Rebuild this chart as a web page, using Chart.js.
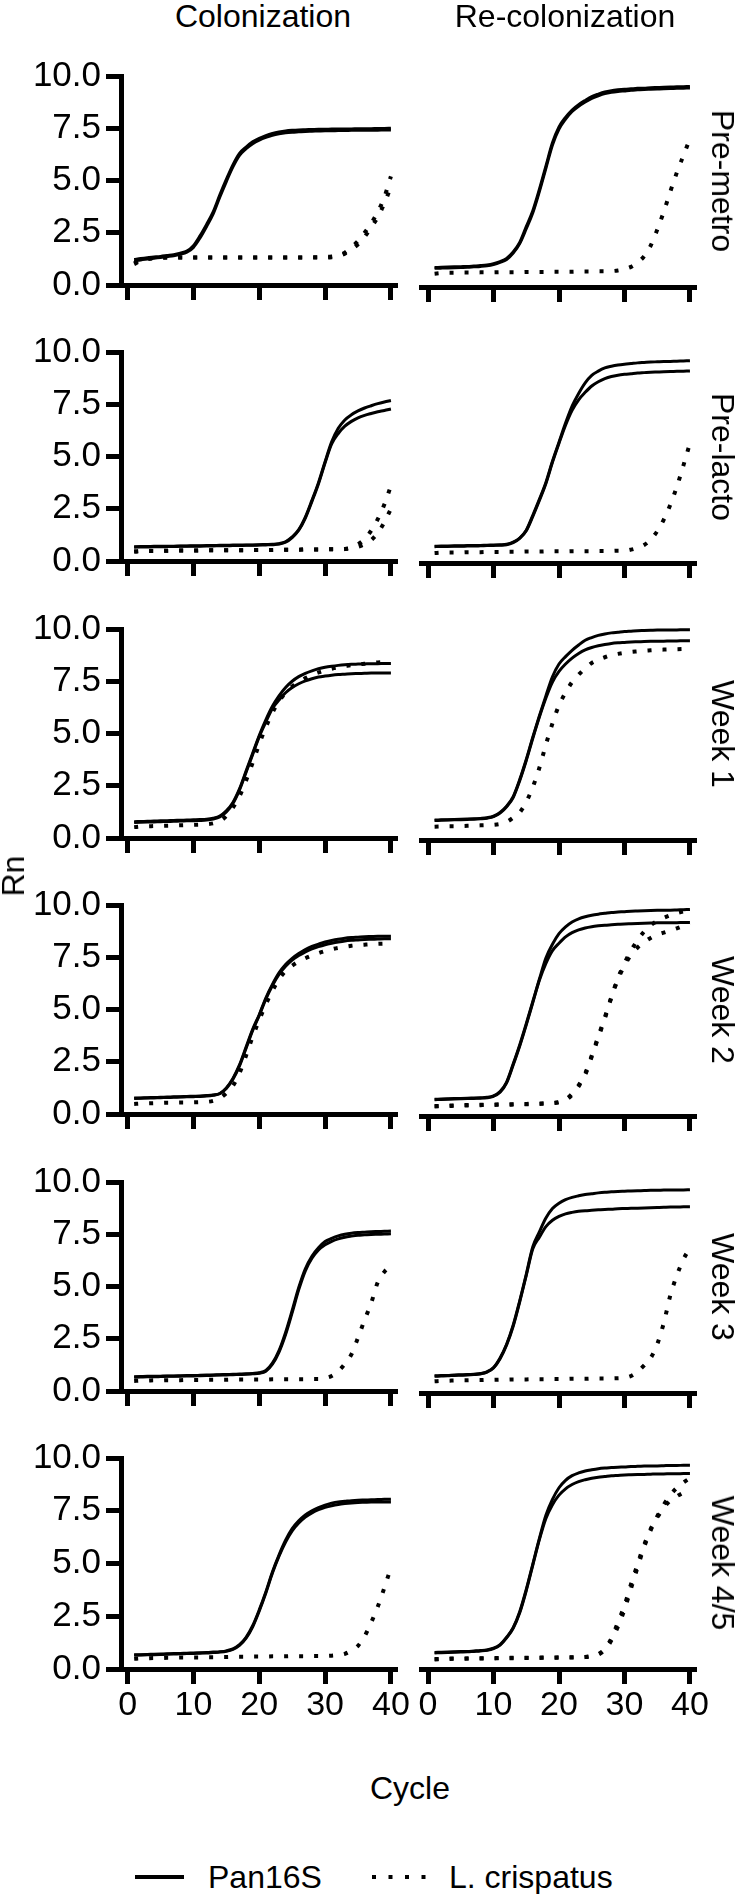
<!DOCTYPE html>
<html>
<head>
<meta charset="utf-8">
<script src="https://cdn.jsdelivr.net/npm/chart.js@4.4.1/dist/chart.umd.min.js"></script>
<style>
  body { margin: 0; background: #fff; }
  #fig { position: relative; width: 750px; height: 1894px; overflow: hidden;
         font-family: "Liberation Sans", Arial, sans-serif; color: #000; }
  #fig canvas { position: absolute; }
  .txt { position: absolute; font-size: 32px; line-height: 1; white-space: nowrap;
         transform: translate(-50%, -50%); }
  .rot { transform: translate(-50%, -50%) rotate(90deg); }
  .rotl { transform: translate(-50%, -50%) rotate(-90deg); }
</style>
</head>
<body>
<div id="fig"></div>
<script>
// cycle numbers, shared by every curve
const cycles = [1,2,3,4,5,6,7,8,9,10,11,12,13,14,15,16,17,18,19,20,21,22,23,24,25,26,27,28,29,30,31,32,33,34,35,36,37,38,39,40];
const xTicks = [0, 10, 20, 30, 40];
const yTicks = [0, 2.5, 5, 7.5, 10];

const rowLabels = ["Pre-metro", "Pre-lacto", "Week 1", "Week 2", "Week 3", "Week 4/5"];
const colTitles = ["Colonization", "Re-colonization"];
const seriesNames = ["Pan16S", "L. crispatus"];

// Pre-metro
const pmColPanA = [1.22,1.27,1.31,1.34,1.37,1.41,1.45,1.52,1.62,1.88,2.35,2.9,3.5,4.3,5.05,5.75,6.3,6.6,6.85,7.02,7.15,7.25,7.32,7.37,7.4,7.42,7.43,7.44,7.45,7.45,7.46,7.46,7.47,7.47,7.48,7.48,7.48,7.49,7.49,7.5];
const pmColPanB = [1.15,1.2,1.24,1.28,1.32,1.36,1.4,1.47,1.57,1.8,2.25,2.8,3.4,4.2,4.95,5.65,6.2,6.52,6.76,6.93,7.06,7.16,7.23,7.28,7.31,7.33,7.35,7.36,7.37,7.38,7.38,7.39,7.39,7.4,7.4,7.41,7.41,7.41,7.42,7.42];
const pmColLcrA = [1.05,1.2,1.27,1.3,1.31,1.32,1.32,1.32,1.32,1.32,1.32,1.32,1.32,1.32,1.32,1.32,1.32,1.32,1.32,1.32,1.32,1.32,1.32,1.32,1.32,1.32,1.32,1.33,1.33,1.34,1.36,1.42,1.55,1.8,2.1,2.5,2.95,3.5,4.2,5.2];
const pmColLcrB = [1.0,1.15,1.24,1.28,1.3,1.31,1.31,1.31,1.31,1.31,1.31,1.31,1.31,1.31,1.31,1.31,1.31,1.31,1.31,1.31,1.31,1.31,1.31,1.31,1.31,1.31,1.31,1.31,1.31,1.31,1.33,1.38,1.5,1.7,1.95,2.3,2.75,3.25,3.9,4.7];
const pmRecPanA = [0.92,0.93,0.94,0.95,0.96,0.97,0.99,1.01,1.04,1.1,1.2,1.35,1.65,2.1,2.85,3.6,4.6,5.7,6.8,7.55,8.0,8.35,8.6,8.8,8.98,9.1,9.2,9.26,9.3,9.33,9.35,9.37,9.38,9.4,9.41,9.42,9.43,9.44,9.45,9.46];
const pmRecPanB = [0.88,0.89,0.9,0.91,0.92,0.93,0.95,0.97,1.0,1.06,1.16,1.3,1.6,2.05,2.75,3.5,4.5,5.6,6.7,7.45,7.92,8.28,8.53,8.73,8.9,9.02,9.12,9.18,9.22,9.25,9.28,9.3,9.32,9.33,9.34,9.35,9.36,9.37,9.38,9.39];
const pmRecLcr = [0.63,0.66,0.67,0.67,0.68,0.68,0.68,0.69,0.69,0.69,0.7,0.7,0.7,0.7,0.71,0.71,0.71,0.71,0.72,0.72,0.72,0.72,0.73,0.73,0.73,0.74,0.74,0.75,0.78,0.85,0.95,1.15,1.45,1.95,2.7,3.55,4.5,5.4,6.2,7.0];

// Pre-lacto
const plColPanA = [0.68,0.69,0.69,0.7,0.7,0.71,0.71,0.72,0.72,0.73,0.73,0.74,0.74,0.75,0.75,0.76,0.76,0.77,0.77,0.78,0.79,0.8,0.83,0.92,1.15,1.5,2.1,2.9,3.75,4.75,5.7,6.35,6.75,7.0,7.18,7.32,7.43,7.53,7.61,7.68];
const plColPanB = [0.66,0.67,0.67,0.68,0.68,0.69,0.69,0.7,0.7,0.71,0.71,0.72,0.72,0.73,0.73,0.74,0.74,0.75,0.75,0.76,0.77,0.78,0.81,0.9,1.12,1.47,2.05,2.85,3.7,4.7,5.6,6.1,6.45,6.68,6.85,6.97,7.06,7.14,7.2,7.27];
const plColLcrA = [0.45,0.47,0.48,0.48,0.49,0.49,0.5,0.5,0.5,0.5,0.51,0.51,0.51,0.51,0.52,0.52,0.52,0.52,0.53,0.53,0.53,0.53,0.54,0.54,0.54,0.54,0.55,0.55,0.55,0.55,0.56,0.56,0.58,0.65,0.8,1.05,1.45,2.0,2.7,3.6];
const plColLcrB = [0.45,0.47,0.48,0.48,0.49,0.49,0.5,0.5,0.5,0.5,0.51,0.51,0.51,0.51,0.52,0.52,0.52,0.52,0.53,0.53,0.53,0.53,0.54,0.54,0.54,0.54,0.55,0.55,0.55,0.55,0.56,0.56,0.57,0.6,0.68,0.8,1.0,1.35,1.85,2.5];
const plRecPanA = [0.79,0.8,0.8,0.81,0.81,0.82,0.82,0.83,0.84,0.85,0.86,0.88,0.98,1.18,1.55,2.25,3.0,3.8,4.8,5.7,6.6,7.4,8.0,8.5,8.85,9.05,9.2,9.28,9.34,9.38,9.41,9.44,9.46,9.48,9.49,9.5,9.51,9.52,9.53,9.54];
const plRecPanB = [0.77,0.78,0.78,0.79,0.79,0.8,0.8,0.81,0.82,0.83,0.84,0.86,0.96,1.16,1.52,2.2,2.95,3.75,4.75,5.65,6.5,7.2,7.7,8.05,8.35,8.55,8.7,8.8,8.86,8.9,8.93,8.96,8.98,9.0,9.01,9.02,9.03,9.04,9.05,9.06];
const plRecLcr = [0.47,0.49,0.5,0.5,0.5,0.51,0.51,0.51,0.52,0.52,0.52,0.53,0.53,0.53,0.54,0.54,0.54,0.55,0.55,0.55,0.55,0.56,0.56,0.56,0.56,0.57,0.57,0.57,0.58,0.58,0.63,0.72,0.85,1.1,1.5,2.05,2.75,3.6,4.6,5.65];

// Week 1
const w1ColPanA = [0.78,0.79,0.8,0.81,0.82,0.83,0.84,0.85,0.86,0.87,0.88,0.9,0.95,1.05,1.3,1.7,2.35,3.2,4.05,4.9,5.65,6.3,6.8,7.2,7.5,7.72,7.88,8.0,8.1,8.17,8.22,8.26,8.29,8.31,8.32,8.33,8.34,8.34,8.35,8.35];
const w1ColPanB = [0.74,0.75,0.76,0.77,0.78,0.79,0.8,0.81,0.82,0.83,0.84,0.86,0.91,1.01,1.25,1.65,2.3,3.15,4.0,4.85,5.55,6.2,6.6,6.95,7.2,7.38,7.52,7.62,7.7,7.75,7.79,7.82,7.84,7.86,7.87,7.88,7.89,7.89,7.9,7.9];
const w1ColLcr = [0.52,0.55,0.56,0.57,0.58,0.59,0.6,0.61,0.62,0.63,0.64,0.66,0.7,0.8,1.05,1.45,2.0,2.75,3.6,4.5,5.3,6.0,6.55,6.95,7.25,7.48,7.65,7.8,7.92,8.02,8.1,8.17,8.22,8.27,8.31,8.34,8.37,8.4,8.42,8.43];
const w1RecPanA = [0.94,0.95,0.96,0.97,0.98,0.99,1.0,1.02,1.05,1.12,1.3,1.6,2.05,2.85,3.8,4.85,5.85,6.8,7.7,8.3,8.65,8.95,9.2,9.42,9.55,9.65,9.72,9.77,9.8,9.83,9.85,9.87,9.88,9.89,9.9,9.9,9.91,9.91,9.92,9.92];
const w1RecPanB = [0.92,0.93,0.94,0.95,0.96,0.97,0.98,1.0,1.03,1.1,1.27,1.57,2.0,2.8,3.75,4.8,5.8,6.7,7.45,7.95,8.3,8.58,8.8,8.97,9.08,9.16,9.22,9.27,9.3,9.32,9.34,9.35,9.36,9.37,9.38,9.38,9.39,9.39,9.4,9.4];
const w1RecLcr = [0.63,0.64,0.65,0.65,0.66,0.67,0.68,0.69,0.7,0.72,0.76,0.85,1.05,1.3,1.8,2.5,3.4,4.5,5.5,6.35,6.95,7.45,7.8,8.1,8.35,8.5,8.62,8.72,8.78,8.83,8.87,8.9,8.93,8.95,8.97,8.98,8.99,9.0,9.01,9.02];

// Week 2
const w2ColPanA = [0.76,0.77,0.78,0.79,0.8,0.81,0.82,0.83,0.84,0.85,0.86,0.88,0.91,0.98,1.25,1.7,2.35,3.2,4.05,4.75,5.55,6.2,6.75,7.15,7.45,7.68,7.87,8.02,8.13,8.23,8.3,8.36,8.41,8.44,8.46,8.48,8.49,8.5,8.5,8.5];
const w2ColPanB = [0.74,0.75,0.76,0.77,0.78,0.79,0.8,0.81,0.82,0.83,0.84,0.86,0.9,0.97,1.22,1.66,2.3,3.15,4.0,4.72,5.5,6.15,6.68,7.07,7.37,7.58,7.76,7.9,8.01,8.1,8.17,8.23,8.28,8.31,8.33,8.35,8.36,8.37,8.38,8.38];
const w2ColLcr = [0.48,0.5,0.51,0.52,0.53,0.54,0.54,0.55,0.55,0.56,0.57,0.58,0.63,0.75,1.0,1.35,1.95,2.8,3.7,4.5,5.25,5.9,6.45,6.85,7.1,7.3,7.45,7.58,7.7,7.8,7.88,7.95,8.0,8.05,8.08,8.1,8.12,8.14,8.15,8.16];
const w2RecPanA = [0.79,0.8,0.81,0.82,0.83,0.84,0.85,0.86,0.88,0.95,1.15,1.6,2.45,3.35,4.35,5.4,6.45,7.45,8.1,8.6,8.92,9.15,9.3,9.4,9.47,9.52,9.56,9.6,9.62,9.64,9.66,9.67,9.68,9.69,9.7,9.71,9.71,9.72,9.73,9.74];
const w2RecPanB = [0.77,0.78,0.79,0.8,0.81,0.82,0.83,0.84,0.86,0.93,1.12,1.56,2.4,3.3,4.3,5.35,6.4,7.2,7.8,8.15,8.45,8.65,8.78,8.87,8.93,8.97,9.0,9.02,9.04,9.06,9.07,9.08,9.09,9.1,9.11,9.11,9.12,9.12,9.13,9.13];
const w2RecLcrA = [0.47,0.48,0.49,0.5,0.51,0.52,0.52,0.53,0.54,0.54,0.55,0.55,0.56,0.57,0.57,0.58,0.59,0.6,0.62,0.66,0.78,1.05,1.45,2.0,2.85,3.75,4.65,5.6,6.45,7.1,7.6,7.95,8.2,8.4,8.55,8.65,8.75,8.85,8.97,9.08];
const w2RecLcrB = [0.45,0.46,0.47,0.48,0.49,0.5,0.5,0.51,0.52,0.52,0.53,0.53,0.54,0.55,0.55,0.56,0.57,0.58,0.6,0.64,0.75,1.0,1.4,1.95,2.8,3.7,4.6,5.6,6.5,7.2,7.8,8.3,8.7,9.0,9.2,9.35,9.47,9.57,9.65,9.72];

// Week 3
const w3ColPanA = [0.68,0.69,0.7,0.7,0.71,0.72,0.72,0.73,0.74,0.74,0.75,0.76,0.77,0.78,0.79,0.8,0.81,0.82,0.84,0.87,0.98,1.33,1.93,2.8,3.85,4.95,5.85,6.45,6.85,7.15,7.3,7.42,7.5,7.55,7.58,7.6,7.62,7.63,7.64,7.65];
const w3ColPanB = [0.66,0.67,0.68,0.68,0.69,0.7,0.7,0.71,0.72,0.72,0.73,0.74,0.75,0.76,0.77,0.78,0.79,0.8,0.82,0.85,0.95,1.28,1.86,2.7,3.75,4.85,5.75,6.35,6.75,7.0,7.16,7.28,7.36,7.41,7.45,7.47,7.49,7.5,7.51,7.52];
const w3ColLcr = [0.48,0.5,0.5,0.51,0.51,0.52,0.52,0.52,0.53,0.53,0.53,0.54,0.54,0.54,0.54,0.55,0.55,0.55,0.55,0.55,0.55,0.56,0.56,0.56,0.56,0.56,0.56,0.57,0.57,0.62,0.72,0.95,1.3,1.75,2.55,3.4,4.2,5.2,5.7,6.0];
const w3RecPanA = [0.81,0.82,0.83,0.85,0.86,0.87,0.89,0.92,1.0,1.2,1.65,2.3,3.2,4.35,5.6,6.9,7.6,8.25,8.7,8.95,9.12,9.23,9.3,9.36,9.4,9.44,9.47,9.49,9.51,9.52,9.53,9.54,9.55,9.56,9.56,9.57,9.57,9.58,9.58,9.59];
const w3RecPanB = [0.79,0.8,0.81,0.83,0.84,0.85,0.87,0.9,0.98,1.18,1.62,2.27,3.15,4.3,5.55,6.8,7.35,7.85,8.15,8.33,8.45,8.52,8.57,8.6,8.62,8.64,8.66,8.67,8.69,8.7,8.71,8.72,8.73,8.74,8.75,8.76,8.77,8.77,8.78,8.78];
const w3RecLcr = [0.55,0.57,0.58,0.59,0.6,0.6,0.61,0.61,0.62,0.62,0.63,0.63,0.64,0.64,0.64,0.65,0.65,0.65,0.66,0.66,0.66,0.67,0.67,0.67,0.68,0.68,0.68,0.69,0.7,0.72,0.8,1.0,1.3,1.65,2.3,3.3,4.6,5.55,6.3,6.85];

// Week 4/5
const w45ColPanA = [0.67,0.68,0.69,0.7,0.71,0.72,0.73,0.74,0.75,0.76,0.77,0.78,0.8,0.82,0.86,0.95,1.15,1.5,2.05,2.8,3.65,4.6,5.4,6.1,6.65,7.02,7.3,7.5,7.65,7.77,7.86,7.92,7.95,7.98,8.0,8.01,8.02,8.03,8.04,8.05];
const w45ColPanB = [0.65,0.66,0.67,0.68,0.69,0.7,0.71,0.72,0.73,0.74,0.75,0.76,0.78,0.8,0.84,0.93,1.12,1.46,2.0,2.75,3.6,4.55,5.35,6.02,6.55,6.92,7.2,7.4,7.55,7.66,7.74,7.8,7.84,7.87,7.89,7.9,7.91,7.91,7.92,7.92];
const w45ColLcr = [0.48,0.5,0.51,0.52,0.52,0.53,0.53,0.54,0.54,0.55,0.55,0.56,0.56,0.57,0.57,0.58,0.58,0.58,0.59,0.59,0.59,0.6,0.6,0.6,0.61,0.61,0.61,0.62,0.62,0.62,0.63,0.66,0.72,0.88,1.1,1.55,2.2,2.95,3.85,4.8];
const w45RecPanA = [0.78,0.79,0.8,0.81,0.82,0.83,0.85,0.87,0.9,0.98,1.15,1.5,1.95,2.7,3.75,4.95,6.15,7.25,8.0,8.55,8.9,9.12,9.25,9.34,9.4,9.45,9.48,9.5,9.52,9.53,9.55,9.56,9.57,9.58,9.58,9.59,9.6,9.6,9.61,9.61];
const w45RecPanB = [0.76,0.77,0.78,0.79,0.8,0.81,0.83,0.85,0.88,0.96,1.13,1.47,1.92,2.65,3.7,4.9,6.1,7.1,7.75,8.2,8.5,8.7,8.84,8.93,9.0,9.05,9.08,9.11,9.13,9.15,9.16,9.17,9.18,9.19,9.2,9.2,9.21,9.21,9.22,9.22];
const w45RecLcrA = [0.47,0.48,0.49,0.5,0.5,0.5,0.51,0.51,0.51,0.52,0.52,0.52,0.53,0.53,0.53,0.53,0.54,0.54,0.54,0.55,0.55,0.55,0.55,0.56,0.6,0.7,0.95,1.45,2.2,3.0,4.0,4.95,5.85,6.6,7.15,7.6,7.95,8.15,8.32,8.45];
const w45RecLcrB = [0.45,0.46,0.47,0.48,0.48,0.49,0.49,0.5,0.5,0.5,0.51,0.51,0.51,0.52,0.52,0.52,0.52,0.53,0.53,0.53,0.54,0.54,0.55,0.57,0.62,0.68,0.9,1.35,2.0,2.8,3.8,4.8,5.75,6.55,7.2,7.75,8.2,8.55,8.8,9.0];

// [row][col] -> solid (Pan16S) and dotted (L. crispatus) curves
const panels = [
  [{ pan: [pmColPanA, pmColPanB], lcr: [pmColLcrA, pmColLcrB] }, { pan: [pmRecPanA, pmRecPanB], lcr: [pmRecLcr] }],
  [{ pan: [plColPanA, plColPanB], lcr: [plColLcrA, plColLcrB] }, { pan: [plRecPanA, plRecPanB], lcr: [plRecLcr] }],
  [{ pan: [w1ColPanA, w1ColPanB], lcr: [w1ColLcr] }, { pan: [w1RecPanA, w1RecPanB], lcr: [w1RecLcr] }],
  [{ pan: [w2ColPanA, w2ColPanB], lcr: [w2ColLcr] }, { pan: [w2RecPanA, w2RecPanB], lcr: [w2RecLcrA, w2RecLcrB] }],
  [{ pan: [w3ColPanA, w3ColPanB], lcr: [w3ColLcr] }, { pan: [w3RecPanA, w3RecPanB], lcr: [w3RecLcr] }],
  [{ pan: [w45ColPanA, w45ColPanB], lcr: [w45ColLcr] }, { pan: [w45RecPanA, w45RecPanB], lcr: [w45RecLcrA, w45RecLcrB] }],
];

const fig = document.getElementById("fig");
const FONT = { family: '"Liberation Sans", Arial, sans-serif', size: 35 };
const rowTop0 = 75, rowStep = 276.4, plotH = 212, padTop = 25;
const DOTS = [4, 11];

function addText(text, x, y, cls) {
  const d = document.createElement("div");
  d.className = "txt" + (cls ? " " + cls : "");
  d.textContent = text;
  d.style.left = x + "px";
  d.style.top = y + "px";
  fig.appendChild(d);
  return d;
}

function lineSet(curves, dotted) {
  return curves.map((vals) => ({
    data: vals.map((v, i) => ({ x: cycles[i], y: v })),
    borderColor: "#000",
    borderWidth: dotted ? 4 : 3,
    borderDash: dotted ? DOTS : [],
    borderCapStyle: "butt",
    pointRadius: 0,
    cubicInterpolationMode: "monotone",
    fill: false,
  }));
}

function makePanel(row, col) {
  const p = panels[row][col];
  const bottom = row === panels.length - 1;
  const axisH = bottom ? 62 : 18;
  const cv = document.createElement("canvas");
  // left panel: y axis width 121 -> plot starts at x=121; right panel has no y axis
  const left = col === 0 ? 0 : 405;
  const w = col === 0 ? 415 : 310;
  const h = padTop + plotH + axisH + 6;
  cv.width = w;
  cv.height = h;
  cv.style.left = left + "px";
  cv.style.top = (rowTop0 + row * rowStep - padTop) + "px";
  fig.appendChild(cv);

  const tickGrid = { display: true, drawOnChartArea: false, drawTicks: true, tickLength: 15, tickWidth: 5, tickColor: "#000" };
  new Chart(cv, {
    type: "line",
    data: { datasets: [...lineSet(p.pan, false), ...lineSet(p.lcr, true)] },
    options: {
      responsive: false,
      animation: false,
      devicePixelRatio: 1,
      events: [],
      clip: false,
      layout: { padding: col === 0 ? { top: padTop, left: 0, right: 17.5, bottom: 6 } : { top: padTop, left: 16.5, right: 18.5, bottom: 6 } },
      plugins: { legend: { display: false }, tooltip: { enabled: false } },
      scales: {
        x: {
          type: "linear",
          min: -1,
          max: 41,
          afterBuildTicks: (s) => { s.ticks = xTicks.map((v) => ({ value: v })); },
          afterFit: (s) => { s.height = axisH; },
          ticks: { display: bottom, color: "#000", font: { ...FONT, size: 34 }, padding: 1, maxRotation: 0 },
          grid: tickGrid,
          border: { display: true, color: "#000", width: 5 },
        },
        y: {
          display: col === 0,
          min: 0,
          max: 10,
          afterBuildTicks: (s) => { s.ticks = yTicks.map((v) => ({ value: v })); },
          afterFit: (s) => { if (col === 0) s.width = 121; },
          ticks: { color: "#000", font: FONT, padding: 5, callback: (v) => Number(v).toFixed(1) },
          grid: tickGrid,
          border: { display: true, color: "#000", width: 5 },
        },
      },
    },
  });
}

for (let r = 0; r < panels.length; r++) {
  makePanel(r, 0);
  makePanel(r, 1);
  addText(rowLabels[r], 723, rowTop0 + r * rowStep + plotH / 2, "rot");
}

addText(colTitles[0], 263, 16);
addText(colTitles[1], 565, 16);
addText("Rn", 13, 876, "rotl");
addText("Cycle", 410, 1788);

// legend
const leg = document.createElementNS("http://www.w3.org/2000/svg", "svg");
leg.setAttribute("width", "750");
leg.setAttribute("height", "40");
leg.style.position = "absolute";
leg.style.left = "0px";
leg.style.top = "1857px";
leg.innerHTML =
  '<line x1="135" y1="20" x2="184" y2="20" stroke="#000" stroke-width="4"/>' +
  '<line x1="372" y1="20" x2="426" y2="20" stroke="#000" stroke-width="4" stroke-dasharray="4 12.5"/>';
fig.appendChild(leg);
const l1 = addText(seriesNames[0], 208, 1877);
l1.style.transform = "translate(0,-50%)";
const l2 = addText(seriesNames[1], 449, 1877);
l2.style.transform = "translate(0,-50%)";
</script>
</body>
</html>
